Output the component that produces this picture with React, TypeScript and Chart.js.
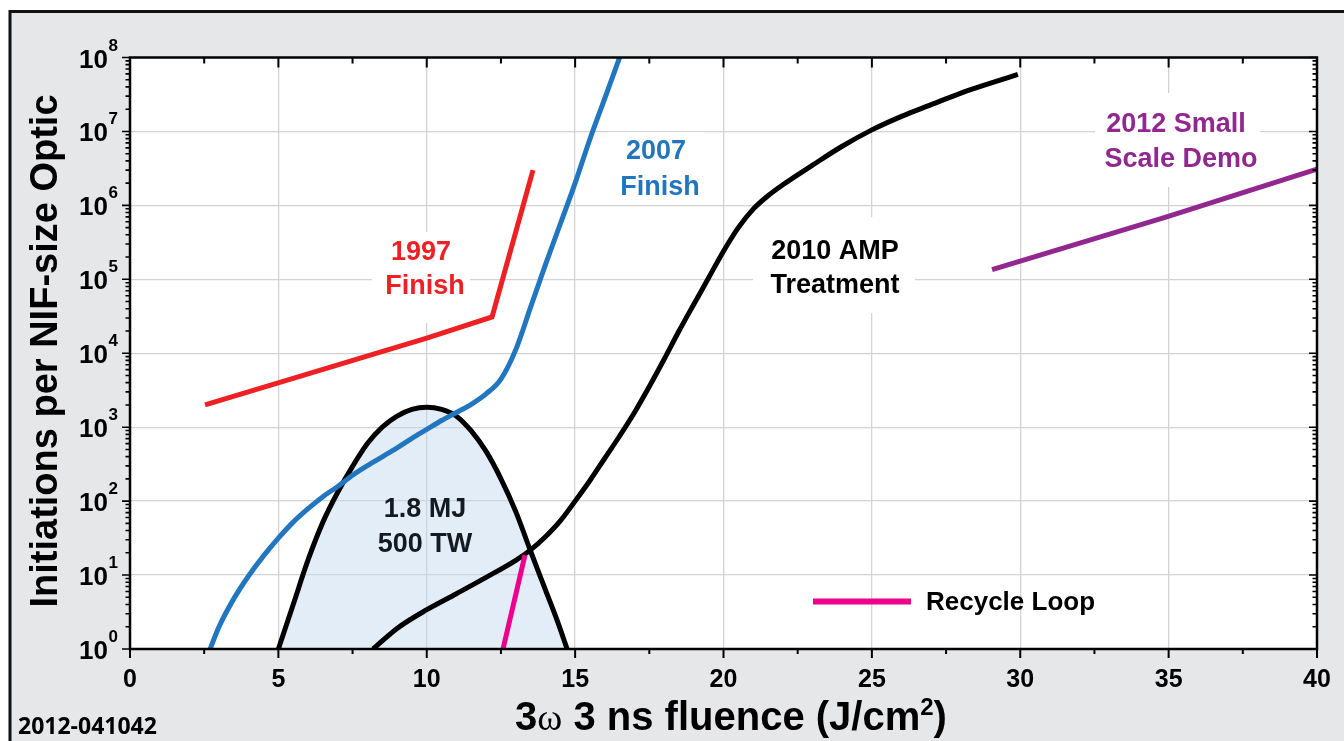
import React, { useEffect, useRef } from "react";
import { Chart, registerables } from "chart.js";
Chart.register(...registerables);

// ---- axis ticks ----
const xTickValues = [0, 5, 10, 15, 20, 25, 30, 35, 40];
const xTickLabels = ["0", "5", "10", "15", "20", "25", "30", "35", "40"];
const yDecadeExponents = [0, 1, 2, 3, 4, 5, 6, 7, 8];

// ---- series (fluence J/cm², initiations) ----
const finish1997X = [2.53, 10.0, 12.2, 13.58];
const finish1997Y = [2000, 16000, 31000, 3.0e6];

const finish2007X = [2.7, 3.0, 3.5, 4.0, 4.5, 5.0, 5.5, 6.0, 6.5, 7.0, 7.5, 8.0, 8.5, 9.0, 9.5, 10.0, 10.5, 11.0, 11.5, 12.0, 12.5, 13.0, 13.5, 14.0, 14.5, 15.0, 15.5, 16.0, 16.5];
const finish2007Y = [1, 2.0, 4.8, 9.8, 18.2, 31.6, 52, 79, 115, 158, 224, 302, 398, 525, 708, 933, 1230, 1580, 2040, 2820, 4470, 1.12e4, 4.2e4, 1.58e5, 5.6e5, 2.0e6, 7.9e6, 2.8e7, 1.0e8];

const laserX = [5.0, 5.5, 6.0, 6.5, 7.0, 7.5, 8.0, 8.5, 9.0, 9.5, 10.0, 10.5, 11.0, 11.5, 12.0, 12.5, 13.0, 13.5, 14.0, 14.4, 14.73];
const laserY = [1, 4, 16, 52, 132, 295, 600, 1000, 1410, 1740, 1860, 1740, 1410, 890, 470, 200, 72, 21, 6.3, 2.4, 1];

const amp2010X = [8.19, 9, 10, 11, 12, 13, 13.5, 14, 14.5, 15, 15.5, 16, 16.5, 17, 17.5, 18, 18.5, 19, 19.5, 20, 20.5, 21, 21.5, 22, 23, 24, 25, 26, 27, 28, 29, 29.92];
const amp2010Y = [1, 1.9, 3.4, 5.6, 9.3, 15.8, 21.9, 33, 54, 100, 190, 380, 760, 1580, 3550, 8300, 2.0e4, 4.6e4, 1.05e5, 2.4e5, 5.0e5, 8.9e5, 1.35e6, 1.9e6, 3.5e6, 6.3e6, 1.05e7, 1.6e7, 2.3e7, 3.3e7, 4.5e7, 5.9e7];

const demo2012X = [29.05, 34.88, 40];
const demo2012Y = [1.35e5, 6.9e5, 3.1e6];

const recycleX = [12.57, 13.31];
const recycleY = [1, 18.6];

const zip = (xs: number[], ys: number[]) => xs.map((x, i) => ({ x, y: ys[i] }));

const SANS = '"Liberation Sans", Arial, Helvetica, sans-serif';
const RED = "#ed2024";
const BLUE = "#2176bf";
const PURPLE = "#92278f";
const PINK = "#ec008c";

type Lbl = { lines: string[]; cx: number[]; base: number[]; color: string; box?: [number, number, number, number] };
const labels: Lbl[] = [
  { lines: ["1997", "Finish"], cx: [421, 425], base: [260, 294], color: RED, box: [372, 232, 470, 323] },
  { lines: ["2007", "Finish"], cx: [656, 660], base: [159, 195], color: BLUE, box: [607, 132, 704, 205] },
  { lines: ["2010 AMP", "Treatment"], cx: [835, 835], base: [259, 293], color: "#000", box: [753, 217, 915, 313] },
  { lines: ["2012 Small", "Scale Demo"], cx: [1176, 1181], base: [132, 167], color: PURPLE, box: [1095, 93, 1260, 187] },
];

const decorPlugin = {
  id: "decor",
  beforeDraw(chart: any) {
    const ctx = chart.ctx;
    const ca = chart.chartArea;
    ctx.save();
    ctx.fillStyle = "#fff";
    ctx.fillRect(0, 0, 1344, 741);
    ctx.fillStyle = "#e6e7e8";
    ctx.fillRect(10, 11, 1334, 730);
    ctx.strokeStyle = "#111";
    ctx.lineWidth = 3;
    ctx.beginPath();
    ctx.moveTo(10, 741);
    ctx.lineTo(10, 11.5);
    ctx.lineTo(1344, 11.5);
    ctx.stroke();
    ctx.fillStyle = "#fff";
    ctx.fillRect(ca.left, ca.top, ca.right - ca.left, ca.bottom - ca.top);
    ctx.restore();
  },
  beforeDatasetsDraw(chart: any) {
    const ctx = chart.ctx;
    ctx.save();
    ctx.font = `bold 27px ${SANS}`;
    ctx.textAlign = "center";
    ctx.textBaseline = "alphabetic";
    for (const l of labels) {
      if (l.box) {
        ctx.fillStyle = "#fff";
        ctx.fillRect(l.box[0], l.box[1], l.box[2] - l.box[0], l.box[3] - l.box[1]);
      }
      ctx.fillStyle = l.color;
      l.lines.forEach((t, i) => ctx.fillText(t, l.cx[i], l.base[i]));
    }
    ctx.restore();
  },
  afterDatasetsDraw(chart: any) {
    const ctx = chart.ctx;
    const ca = chart.chartArea;
    const xs = chart.scales.x;
    const ys = chart.scales.y;
    ctx.save();
    // inner label on fill
    ctx.font = `bold 27px ${SANS}`;
    ctx.textAlign = "center";
    ctx.fillStyle = "#131a22";
    ctx.fillText("1.8 MJ", 425, 517);
    ctx.fillText("500 TW", 425, 552);

    // frame
    ctx.strokeStyle = "#000";
    ctx.lineWidth = 2.5;
    ctx.strokeRect(ca.left, ca.top, ca.right - ca.left, ca.bottom - ca.top);

    // x ticks (bottom outward, top inward)
    ctx.lineWidth = 2;
    for (let v = 0; v <= 40; v += 2.5) {
      const px = xs.getPixelForValue(v);
      const major = v % 5 === 0;
      ctx.beginPath();
      ctx.moveTo(px, ca.bottom);
      ctx.lineTo(px, ca.bottom + (major ? 9 : 5));
      ctx.moveTo(px, ca.top);
      ctx.lineTo(px, ca.top + (major ? 10 : 6));
      ctx.stroke();
    }
    // y ticks (left outward, right inward)
    ctx.lineWidth = 1.6;
    for (const d of yDecadeExponents) {
      const base = Math.pow(10, d);
      const py = ys.getPixelForValue(base);
      ctx.beginPath();
      ctx.moveTo(ca.left, py);
      ctx.lineTo(ca.left - 8, py);
      ctx.moveTo(ca.right, py);
      ctx.lineTo(ca.right - 8, py);
      ctx.stroke();
      if (d < 8) {
        for (let k = 2; k <= 9; k++) {
          const my = ys.getPixelForValue(k * base);
          ctx.beginPath();
          ctx.moveTo(ca.left, my);
          ctx.lineTo(ca.left - 4.5, my);
          ctx.moveTo(ca.right, my);
          ctx.lineTo(ca.right - 4.5, my);
          ctx.stroke();
        }
      }
    }

    // x tick labels
    ctx.fillStyle = "#000";
    ctx.font = `bold 25px ${SANS}`;
    ctx.textAlign = "center";
    xTickValues.forEach((v, i) => {
      ctx.fillText(xTickLabels[i], xs.getPixelForValue(v), 687);
    });
    // y tick labels 10^n
    for (const d of yDecadeExponents) {
      const py = ys.getPixelForValue(Math.pow(10, d));
      ctx.font = `bold 26px ${SANS}`;
      ctx.textAlign = "right";
      ctx.fillText("10", 108, py + 10);
      ctx.font = `bold 17px ${SANS}`;
      ctx.textAlign = "left";
      ctx.fillText(String(d), 108.5, py - 7);
    }

    // y title
    ctx.save();
    ctx.translate(57, 351);
    ctx.rotate(-Math.PI / 2);
    ctx.font = `bold 38px ${SANS}`;
    ctx.textAlign = "center";
    ctx.fillText("Initiations per NIF-size Optic", 0, 0);
    ctx.restore();

    // x title with omega and superscript
    const pieces: [string, string, number][] = [
      ["3", `bold 40px ${SANS}`, 0],
      ["\u03c9", `38px "Liberation Serif", "Times New Roman", serif`, 0],
      [" 3 ns fluence (J/cm", `bold 40px ${SANS}`, 0],
      ["2", `bold 24px ${SANS}`, -15],
      [")", `bold 40px ${SANS}`, 0],
    ];
    let total = 0;
    const widths = pieces.map(([t, f]) => {
      ctx.font = f;
      const w = ctx.measureText(t).width;
      total += w;
      return w;
    });
    let cx = 731 - total / 2;
    ctx.textAlign = "left";
    pieces.forEach(([t, f, dy], i) => {
      ctx.font = f;
      ctx.fillText(t, cx, 730 + dy);
      cx += widths[i];
    });

    // legend: recycle loop
    ctx.strokeStyle = PINK;
    ctx.lineWidth = 6;
    ctx.beginPath();
    ctx.moveTo(813, 601.5);
    ctx.lineTo(911, 601.5);
    ctx.stroke();
    ctx.fillStyle = "#000";
    ctx.font = `bold 26px ${SANS}`;
    ctx.textAlign = "left";
    ctx.fillText("Recycle Loop", 926, 610);

    // footer id
    ctx.font = `bold 23px "Open Sans", ${SANS}`;
    ctx.fillText("2012-041042", 18, 734);
    ctx.restore();
  },
};

export default function App() {
  const ref = useRef<HTMLCanvasElement | null>(null);
  useEffect(() => {
    if (!ref.current) return;
    const common = { pointRadius: 0, pointHoverRadius: 0, borderWidth: 5, fill: false };
    const chart = new Chart(ref.current, {
      type: "line",
      data: {
        datasets: [
          { ...common, label: "Recycle Loop", data: zip(recycleX, recycleY), borderColor: PINK, tension: 0, order: 1 },
          { ...common, label: "2010 AMP Treatment", data: zip(amp2010X, amp2010Y), borderColor: "#000", cubicInterpolationMode: "monotone", order: 2 },
          { ...common, label: "1997 Finish", data: zip(finish1997X, finish1997Y), borderColor: RED, tension: 0, order: 3 },
          { ...common, label: "2012 Small Scale Demo", data: zip(demo2012X, demo2012Y), borderColor: PURPLE, tension: 0, order: 4 },
          { ...common, label: "2007 Finish", data: zip(finish2007X, finish2007Y), borderColor: BLUE, cubicInterpolationMode: "monotone", order: 5 },
          {
            ...common,
            label: "1.8 MJ 500 TW",
            data: zip(laserX, laserY),
            borderColor: "#000",
            cubicInterpolationMode: "monotone",
            fill: "start",
            backgroundColor: "rgba(190,215,238,0.45)",
            order: 6,
          },
        ] as any,
      },
      options: {
        responsive: false,
        maintainAspectRatio: false,
        animation: false,
        events: [],
        layout: { padding: { left: 130, right: 27, top: 57.5, bottom: 92 } },
        plugins: { legend: { display: false }, tooltip: { enabled: false } },
        scales: {
          x: {
            type: "linear",
            min: 0,
            max: 40,
            ticks: { display: false },
            grid: { color: "#d3d3d3", lineWidth: 1.3, drawTicks: false },
            border: { display: false },
            afterBuildTicks: (s: any) => {
              s.ticks = xTickValues.map((v) => ({ value: v }));
            },
            afterFit: (s: any) => {
              s.height = 0;
            },
          },
          y: {
            type: "logarithmic",
            min: 1,
            max: 1e8,
            ticks: { display: false },
            grid: { color: "#d3d3d3", lineWidth: 1.3, drawTicks: false },
            border: { display: false },
            afterBuildTicks: (s: any) => {
              s.ticks = yDecadeExponents.map((d) => ({ value: Math.pow(10, d) }));
            },
            afterFit: (s: any) => {
              s.width = 0;
            },
          },
        },
      } as any,
      plugins: [decorPlugin],
    });
    return () => chart.destroy();
  }, []);
  return (
    <div style={{ position: "absolute", left: 0, top: 0, width: 1344, height: 741 }}>
      <canvas ref={ref} width={1344} height={741} style={{ display: "block", width: 1344, height: 741 }} />
    </div>
  );
}
